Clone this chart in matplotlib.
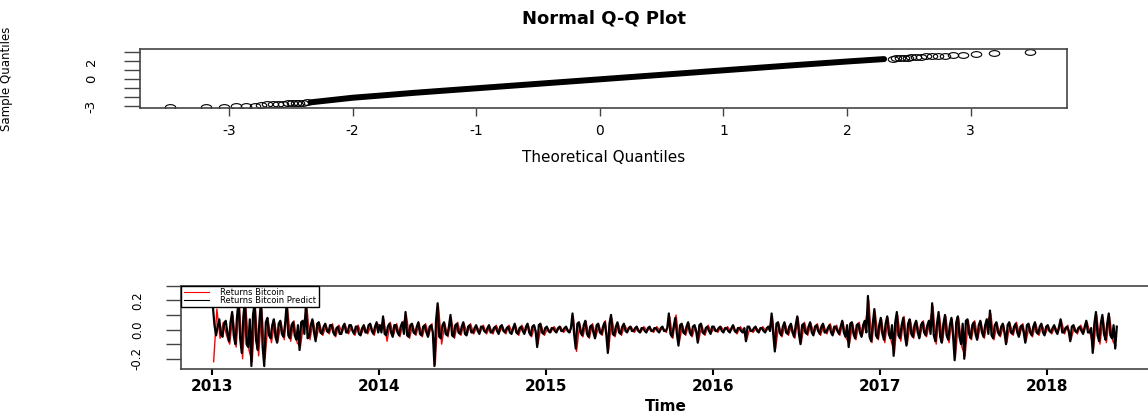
import numpy as np
import matplotlib
matplotlib.use("Agg")
import matplotlib.pyplot as plt
from matplotlib.path import Path
from matplotlib.transforms import Affine2D

plt.rcParams['axes.unicode_minus'] = False

# ---- Normal Q-Q plot (theoretical vs sample quantiles) ----
# dense middle of the point cloud
qq_mid_theo = [-2.34, -2.0, -1.75, -1.5, -1.0, -0.5, 0.0, 0.5, 1.0, 1.5, 2.0, 2.3]
qq_mid_sample = [-2.56, -2.05, -1.78, -1.5, -1.0, -0.5, 0.0, 0.5, 1.0, 1.5, 1.98, 2.25]
# individual points in the tails
qq_low_theo = [-3.48, -3.19, -3.04, -2.94, -2.86, -2.79, -2.74, -2.69, -2.64,
               -2.60, -2.56, -2.52, -2.49, -2.46, -2.43, -2.40, -2.37]
qq_low_sample = [-3.06, -3.05, -3.04, -3.02, -2.98, -2.92, -2.85, -2.80, -2.76,
                 -2.72, -2.69, -2.66, -2.64, -2.62, -2.60, -2.58, -2.57]
qq_high_theo = [2.37, 2.40, 2.43, 2.46, 2.49, 2.52, 2.56, 2.60, 2.64,
                2.69, 2.74, 2.79, 2.86, 2.94, 3.04, 3.19, 3.48]
qq_high_sample = [2.30, 2.33, 2.36, 2.39, 2.42, 2.45, 2.48, 2.51, 2.54,
                  2.57, 2.60, 2.63, 2.68, 2.73, 2.78, 2.92, 3.03]

# ---- actual returns (in %), one value per week ----
ret_2013 = [-22, 14, -6, 5, -4,
            -10, 10, -12, 18, -20, 16, -14, -22, 15, -18, 14, -20, 6, -9, 5, -8,
            5, -7, 15, -8, 6, -9, -12, 4, 16, -7, 6, -6, 4,
            -4, 3, -3, 4, -5, 3, -2, 3, -3, 2, -4, 3, -3, 2, -3, 3, -4, 4]
ret_2014 = [2, 7, -8,
            5, -4, 4, -5, 4, 10, -6, 3, -4, 4, -5, 4, -4,
            4, -24, 16, -10,
            4, -5, 8, -6, 5, -4, 4, -3, 4,
            -3, 2, -2, 3, -3, 2, -3, 3, -2, 2, -3, 3, -2, 3, -4, 3, -2, 3, -5, 2, -10, 3, -4]
ret_2015 = [1, -2, 2, -1, 2, -2, 1, -2,
            9, -15,
            4, -5, 5, -6, 4, -5, 3, -4, 6, -14, 8, -5, 4, -4, 3,
            -1, 2, -2, 1, -2, 2, -1, 1, -2, 2, -1, 1, -2,
            9, -6, 10, -9,
            3, -4, 4, -5, 2, -8, 3, -4, 3, -2]
ret_2016 = [1, -2, 2, -1, 2, -1, 2, -3, 2, -1, -7, 1, -2, 1, -1, 2, -1, 1,
            9, -13, 4,
            -5, 4, -4, 3, -6, 8, -9, 5, -4, 4, -3, 4,
            -4, 3, -3, 4, -3, 3, -4,
            5, -6, -10, 4, -7, 5, -4, 5,
            20, -9, 12, -7]
ret_2017 = [7, -9, 8, -8, -16,
            10, -8, 9, -10, 6, -6, 5,
            -5, 6, -5, 5,
            16,
            -10, 10, -8, 9, -9, 7, -19, 8, -12, -18,
            6, -7, 6, -6, 5, -6, 6, 11, -7,
            4, -5, 3, -9, 4, -4, 5, -4, 4, -8, 3, -5, 4, -4, 3, -3]
ret_2018 = [2, -3, 2, -2, 6, -3, 3, -7, 2, -3, 3, -2, 5, -3,
            -14, 10, -10, 8, -9, 9, -8, -11]

# ---- predicted returns (in %), two values per week ----
pred_2013 = [16, 3, -4, 2, 7, -3, -5, 4, 6, -2,
             -8, 5, 12, -4, -10, 8, 20, -6, -16, 9, 20, -10, -12, 7, -25, 10,
             18, -8, -14, 6, 20, -12, -25, 5, 8, -4, -6, 3, 7, -5, -9, 4,
             6, -3, -5, 4, 18, -4, -6, 3, 5, -4, -7, 3, -14, 5, 6, -3,
             18, -6, -5, 3, 7, -2, -8, 4, 5, -2,
             -3, 2, 4, -1, -2, 3, 3, -2, -4, 1, 2, -3, -3, 2, 4, -2, -2, 3,
             3, -1, -3, 2, 2, -3, -4, 1, 3, -2, -2, 3, 4, -1, -3, 2, 5, -2]
pred_2014 = [3, -2, 9, -3, -4, 2,
             4, -2, -5, 3, 3, -2, -4, 2, 5, -3, 12, -4, -5, 3, 4, -2, -3, 2,
             5, -3, -4, 2, 3, -2, -5, 2,
             3, -2, -25, 6, 18, -5, -6, 3,
             5, -3, -4, 2, 10, -4, -5, 3, 4, -2, -3, 2, 5, -3, -4, 2, 3, -2,
             -2, 1, 3, -1, -3, 2, 2, -1, -2, 1, 3, -2, -2, 1, 2, -1, -3, 2,
             3, -1, -2, 1, 2, -2, -3, 1, 4, -2, -3, 1, 2, -1, -3, 2, 4, -2,
             -4, 2, 3, -1, -12, 3, 4, -2, -3, 1]
pred_2015 = [2, -1, -2, 1, 1, -1, -2, 1, 2, -1, -1, 1, 2, -1, -2, 1,
             11, -3, -13, 4,
             5, -2, -4, 3, 6, -3, -5, 2, 3, -2, -6, 3, 4, -2, -3, 2, 5, -3,
             -16, 4, 10, -3, -4, 2, 5, -2, -3, 2, 4, -1,
             -2, 1, 2, -1, -1, 1, 2, -1, -2, 1, 1, -1, -2, 1, 2, -1, -1, 1,
             1, -1, -2, 1, 2, -1, -1, 1,
             11, -3, -5, 2, 8, -3, -11, 3,
             4, -2, -3, 2, 5, -2, -4, 2, 3, -1, -9, 3, 4, -2, -3, 1, 2, -1, -3, 2]
pred_2016 = [2, -1, -1, 1, 2, -1, -2, 1, 1, -1, -2, 1, 3, -1, -2, 1, 1, -1,
             -2, 1, -8, 2, 2, -1, -1, 1, 2, -1, -2, 1, 1, -1, -2, 1, 2, -1,
             11, -3, -15, 4, 5, -2,
             -4, 2, 5, -2, -3, 2, 4, -2, -5, 3, 9, -3, -10, 3, 4, -2, -3, 2,
             5, -2, -4, 2, 3, -1,
             -3, 2, 4, -2, -2, 1, 3, -2, -4, 2, 2, -1, -3, 2,
             6, -2, -5, 3, -12, 4, 5, -3, -6, 3, 4, -2, -5, 3, 6, -2,
             23, -5, -8, 4, 14, -4, -6, 3]
pred_2017 = [8, -3, -7, 4, 9, -3, -6, 3, -18, 5,
             12, -4, -6, 3, 8, -4, -11, 4, 7, -3, -5, 3, 6, -2,
             -6, 3, 5, -2, -4, 3, 6, -3,
             18, -4,
             -8, 4, 12, -5, -9, 4, 10, -4, -7, 3, 8, -4, -21, 5, 9, -5,
             -10, 4, -20, 6,
             7, -3, -6, 3, 5, -3, -7, 3, 6, -2, -5, 3, 7, -3, 13, -4, -6, 3,
             5, -2, -4, 2, 4, -2, -10, 3, 5, -2, -3, 2, 4, -2, -5, 2,
             3, -2, -9, 3, 4, -2, -4, 2, 5, -2, -3, 2, 4, -2, -4, 2]
pred_2018 = [3, -1, -2, 1, 3, -1, -3, 2, 7, -2, -2, 1, 2, -1, -8, 2,
             3, -1, -2, 1, 2, -1, -3, 2, 6, -2, -2, 1,
             -16, 4, 12, -4, -8, 4, 10, -3, -7, 4, 11, -4, -6, 3, -13, 2]

years = [2013, 2014, 2015, 2016, 2017, 2018]
ret_by_year = [ret_2013, ret_2014, ret_2015, ret_2016, ret_2017, ret_2018]
pred_by_year = [pred_2013, pred_2014, pred_2015, pred_2016, pred_2017, pred_2018]

t_ret, ret, t_pred, pred = [], [], [], []
for y, r, p in zip(years, ret_by_year, pred_by_year):
    t_ret.extend(y + (np.arange(len(r)) + 0.5) / 52)
    ret.extend(np.array(r) / 100)
    t_pred.extend(y + (np.arange(len(p)) + 0.5) / 104)
    pred.extend(np.array(p) / 100)

W, H = 1148, 412
fig = plt.figure(figsize=(W / 100, H / 100), dpi=100)
spine_col = '#444444'

# ---------- top: Q-Q plot ----------
ax1 = fig.add_axes([140 / W, 1 - 108 / H, 927 / W, 59 / H])
ellipse = Path.unit_circle().transformed(Affine2D().scale(1.0, 0.55))
ax1.plot(qq_mid_theo, qq_mid_sample, color='black', lw=4.3, solid_capstyle='round')
ax1.plot(qq_low_theo, qq_low_sample, ls='none', marker=ellipse, ms=7.5,
         mfc='none', mec='black', mew=0.8)
ax1.plot(qq_high_theo, qq_high_sample, ls='none', marker=ellipse, ms=7.5,
         mfc='none', mec='black', mew=0.8)
ax1.set_xlim(-3.72, 3.78)
ax1.set_ylim(-3.19, 3.37)
ax1.set_xticks([-3, -2, -1, 0, 1, 2, 3])
ax1.set_xticklabels(['-3', '-2', '-1', '0', '1', '2', '3'], fontsize=10)
ax1.set_yticks([-3, -2, -1, 0, 1, 2, 3])
ax1.set_yticklabels(['-3', '', '', '0', '', '2', ''], fontsize=9.5, rotation=90, va='center')
ax1.tick_params(axis='x', length=5.8, width=1, color=spine_col, pad=6)
ax1.tick_params(axis='y', length=11.5, width=1, color=spine_col, pad=19)
for s in ax1.spines.values():
    s.set_color(spine_col)
    s.set_linewidth(1.2)
ax1.set_title('Normal Q-Q Plot', fontsize=13, fontweight='bold', pad=18)
ax1.set_xlabel('Theoretical Quantiles', fontsize=11)
ax1.xaxis.set_label_coords(0.5, -0.72)
ax1.set_ylabel('Sample Quantiles', fontsize=8.5)
ax1.yaxis.set_label_coords(-0.137, 0.5)

# ---------- bottom: returns time series ----------
ax2 = fig.add_axes([181 / W, 1 - 369 / H, 969 / W, 83.3 / H])
ax2.plot(t_ret, ret, color='red', lw=1.0, label='Returns Bitcoin')
ax2.plot(t_pred, pred, color='black', lw=1.6, label='Returns Bitcoin Predict')
ax2.set_xlim(2012.814, 2018.617)
ax2.set_ylim(-0.27, 0.30)
ax2.set_xticks(years)
ax2.set_xticklabels([str(y) for y in years], fontsize=11, fontweight='bold')
ax2.set_yticks([-0.2, -0.1, 0.0, 0.1, 0.2, 0.3])
ax2.set_yticklabels(['-0.2', '', '0.0', '', '0.2', ''], fontsize=8.5, rotation=90, va='center')
ax2.tick_params(axis='x', length=4.3, width=1.5, color='black', pad=3)
ax2.tick_params(axis='y', length=10.8, width=1, color=spine_col, pad=16)
for s in ax2.spines.values():
    s.set_color(spine_col)
    s.set_linewidth(1.2)
ax2.set_xlabel('Time', fontsize=11, fontweight='bold')
ax2.xaxis.set_label_coords(0.5, -0.36)
leg = ax2.legend(loc='upper left', bbox_to_anchor=(0, 1), borderaxespad=0,
                 fontsize=6, handlelength=3.0, handletextpad=1.4,
                 labelspacing=-0.2, borderpad=0.3, fancybox=False,
                 edgecolor='black', framealpha=1)
leg.get_frame().set_linewidth(1.0)
for line in leg.get_lines():
    line.set_linewidth(0.8)

fig.savefig('out.png', dpi=100)
